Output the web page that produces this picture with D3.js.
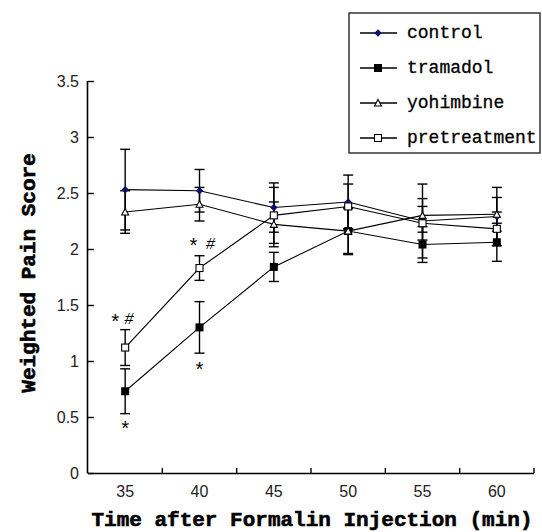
<!DOCTYPE html>
<html>
<head>
<meta charset="utf-8">
<script src="https://cdn.jsdelivr.net/npm/d3@7"></script>
<style>
  body { margin: 0; background: #fff; }
  svg { display: block; }
</style>
</head>
<body>
<div id="main"></div>
<script>
var width = 542, height = 532;

// data
var times = ["35", "40", "45", "50", "55", "60"];
var yTicks = [0, 0.5, 1, 1.5, 2, 2.5, 3, 3.5];
var seriesNames = ["control", "tramadol", "yohimbine", "pretreatment"];
var controlVals = [2.53, 2.52, 2.37, 2.42, 2.25, 2.29];
var controlErr = [0.36, 0.19, 0.22, 0.24, 0.33, 0.26];
var tramadolVals = [0.73, 1.30, 1.84, 2.16, 2.04, 2.06];
var tramadolErr = [0.20, 0.23, 0.13, 0.21, 0.16, 0.17];
var yohimbineVals = [2.33, 2.40, 2.22, 2.16, 2.30, 2.31];
var yohimbineErr = [0.19, 0.15, 0.20, 0.20, 0.15, 0.15];
var pretreatVals = [1.12, 1.83, 2.30, 2.38, 2.23, 2.18];
var pretreatErr = [0.16, 0.11, 0.25, 0.20, 0.15, 0.15];
// significance marks: [time, value, label, pixel shift]
var marks = [
  ["35", 1.36, "*", -10], ["35", 1.33, "#", 4],
  ["35", 0.40, "*", 0],
  ["40", 2.04, "*", -6], ["40", 2.00, "#", 11],
  ["40", 0.93, "*", 0]
];

var svg = d3.select("#main").append("svg")
  .attr("width", width).attr("height", height);

var x = d3.scaleBand().domain(times).range([88, 534]);
var y = d3.scaleLinear().domain([0, 3.5]).range([473, 81]);

function cx(t) { return x(t) + x.bandwidth() / 2; }

// axes
var yAxis = svg.append("g").attr("transform", "translate(88,0)")
  .call(d3.axisLeft(y).tickValues(yTicks).tickSize(-6).tickPadding(9)
    .tickFormat(function (d) { return d; }));
var xAxis = svg.append("g").attr("transform", "translate(0,473)")
  .call(d3.axisBottom(x).tickSize(0).tickPadding(13));
xAxis.selectAll(".tick line").remove();
[yAxis, xAxis].forEach(function (g) {
  g.select(".domain").attr("stroke", "#000").attr("stroke-width", 1.6);
});
yAxis.select(".domain").attr("d", "M-0.5,81V473.5");
xAxis.select(".domain").attr("d", "M88,0.5H534");
yAxis.selectAll(".tick line").attr("stroke", "#000").attr("stroke-width", 1.4);
// x ticks on band boundaries, pointing up
var bounds = times.map(function (t) { return x(t) + x.bandwidth(); });
xAxis.selectAll(".bound").data(bounds).enter().append("line")
  .attr("x1", function (d) { return d; }).attr("x2", function (d) { return d; })
  .attr("y1", 0).attr("y2", -5).attr("stroke", "#000").attr("stroke-width", 1.4);
svg.selectAll(".tick text").attr("font-family", "Liberation Sans, Arial, sans-serif")
  .attr("font-size", 16).attr("fill", "#222");

// axis titles
svg.append("text").attr("x", 312).attr("y", 526).attr("text-anchor", "middle")
  .attr("font-family", "Liberation Mono, monospace").attr("font-weight", "bold")
  .attr("font-size", 21).attr("stroke", "#000").attr("stroke-width", 0.6)
  .text("Time after Formalin Injection (min)");
svg.append("text").attr("transform", "translate(35,273) rotate(-90)")
  .attr("text-anchor", "middle")
  .attr("font-family", "Liberation Mono, monospace").attr("font-weight", "bold")
  .attr("font-size", 21).attr("stroke", "#000").attr("stroke-width", 0.6)
  .text("Weighted Pain Score");

var series = [
  { name: seriesNames[0], vals: controlVals, err: controlErr, shape: "diamond" },
  { name: seriesNames[1], vals: tramadolVals, err: tramadolErr, shape: "fsquare" },
  { name: seriesNames[2], vals: yohimbineVals, err: yohimbineErr, shape: "triangle" },
  { name: seriesNames[3], vals: pretreatVals, err: pretreatErr, shape: "osquare" }
];

function drawMarker(g, shape, px, py) {
  if (shape == "diamond") {
    g.append("path").attr("d", d3.symbol().type(d3.symbolDiamond2).size(36)())
      .attr("transform", "translate(" + px + "," + py + ")").attr("fill", "#10106a");
  } else if (shape == "fsquare") {
    g.append("rect").attr("x", px - 4).attr("y", py - 4).attr("width", 8).attr("height", 8)
      .attr("fill", "#000");
  } else if (shape == "triangle") {
    g.append("path").attr("d", "M" + (px - 3.5) + "," + (py + 3) + "L" + px + "," + (py - 3.5) +
      "L" + (px + 3.5) + "," + (py + 3) + "Z")
      .attr("fill", "#fff").attr("stroke", "#000").attr("stroke-width", 1.1);
  } else {
    g.append("rect").attr("x", px - 3.5).attr("y", py - 3.5).attr("width", 7).attr("height", 7)
      .attr("fill", "#fff").attr("stroke", "#000").attr("stroke-width", 1.1);
  }
}

var line = d3.line().x(function (d, i) { return cx(times[i]); }).y(function (d) { return y(d); });
var plot = svg.append("g");

series.forEach(function (s) {
  var g = plot.append("g");
  s.vals.forEach(function (v, i) {
    var px = cx(times[i]);
    var top = y(v + s.err[i]), bot = y(v - s.err[i]);
    g.append("line").attr("x1", px).attr("x2", px).attr("y1", top).attr("y2", bot)
      .attr("stroke", "#000").attr("stroke-width", 1.4);
    [top, bot].forEach(function (yy) {
      g.append("line").attr("x1", px - 5).attr("x2", px + 5).attr("y1", yy).attr("y2", yy)
        .attr("stroke", "#000").attr("stroke-width", 1.4);
    });
  });
  g.append("path").attr("d", line(s.vals)).attr("fill", "none")
    .attr("stroke", "#000").attr("stroke-width", 1.1);
});
series.forEach(function (s) {
  var g = plot.append("g");
  s.vals.forEach(function (v, i) { drawMarker(g, s.shape, cx(times[i]), y(v)); });
});

// significance marks
svg.selectAll(".mark").data(marks).enter().append("text")
  .attr("x", function (d) { return cx(d[0]) + d[3]; })
  .attr("y", function (d) { return y(d[1]) + (d[2] == "*" ? 8 : 0); })
  .attr("text-anchor", "middle")
  .attr("font-family", "Liberation Mono, monospace")
  .attr("font-size", function (d) { return d[2] == "*" ? 20 : 16; })
  .attr("font-style", function (d) { return d[2] == "#" ? "italic" : "normal"; })
  .text(function (d) { return d[2]; });

// legend
var legend = svg.append("g");
legend.append("rect").attr("x", 349).attr("y", 13).attr("width", 191).attr("height", 140)
  .attr("fill", "#fff").attr("stroke", "#333").attr("stroke-width", 1.5);
series.forEach(function (s, i) {
  var ly = 33 + i * 35;
  legend.append("line").attr("x1", 360).attr("x2", 397).attr("y1", ly).attr("y2", ly)
    .attr("stroke", "#000").attr("stroke-width", 1.3);
  drawMarker(legend, s.shape, 378, ly);
  legend.append("text").attr("x", 407).attr("y", ly + 5)
    .attr("font-family", "Liberation Mono, monospace").attr("font-size", 18)
    .attr("stroke", "#000").attr("stroke-width", 0.3)
    .text(s.name);
});
</script>
</body>
</html>
